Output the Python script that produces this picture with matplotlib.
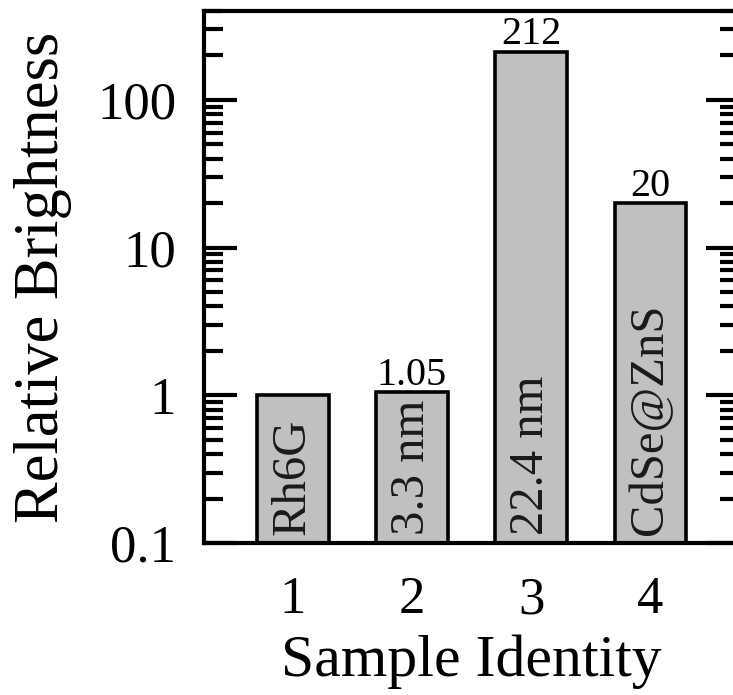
import matplotlib.pyplot as plt

# 샘플별 상대 밝기 (Rh6G = 1 기준)
samples = [1, 2, 3, 4]
brightness = [1.0, 1.05, 212, 20]
value_labels = ["", "1.05", "212", "20"]
sample_names = ["Rh6G", "3.3 nm", "22.4 nm", "CdSe@ZnS"]

plt.rcParams['font.family'] = ['Liberation Serif', 'DejaVu Serif']

fig = plt.figure(figsize=(7.33, 6.95), dpi=100)
ax = fig.add_axes([0.2783, 0.2187, 0.73, 0.7655])

ax.bar(samples, brightness, width=0.6, color='#c0c0c0', edgecolor='black', linewidth=2.6)
ax.set_yscale('log')
ax.set_ylim(0.1, 400)
ax.set_xlim(0.255, 4.745)

# 막대 위 수치
for x, v, lab in zip(samples, brightness, value_labels):
    if lab:
        ax.annotate(lab, (x, v), xytext=(0, -1), textcoords='offset points',
                    ha='center', va='bottom', fontsize=29)

# 막대 안쪽 세로 이름
for x, name in zip(samples, sample_names):
    ax.annotate(name, (x, 0.1), xytext=(0, 6), textcoords='offset points',
                ha='center', va='bottom', rotation=90, fontsize=35, color='#1a1a1a')

ax.set_xticks(samples)
ax.set_xticklabels([str(s) for s in samples])
ax.set_yticks([0.1, 1, 10, 100])
ax.set_yticklabels(["0.1", "1", "10", "100"])

ax.tick_params(axis='x', length=0, labelsize=38, pad=24)
ax.tick_params(axis='y', which='major', direction='in', length=24, width=3,
               labelsize=38, pad=20, right=True)
ax.tick_params(axis='y', which='minor', direction='in', length=14, width=3, right=True)
for s in ax.spines.values():
    s.set_linewidth(3)

ax.set_xlabel("Sample Identity", fontsize=43, labelpad=7)
ax.set_ylabel("Relative Brightness", fontsize=45, labelpad=18)

fig.savefig("out.png", dpi=100)
